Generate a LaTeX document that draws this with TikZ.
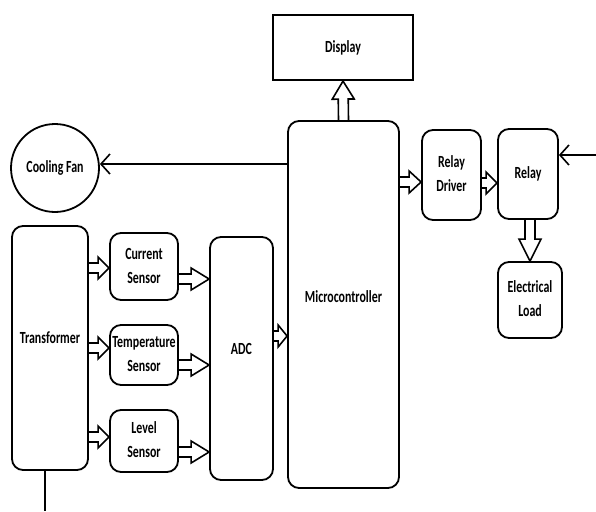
\documentclass[tikz,border=0pt]{standalone}
\usepackage{fontspec}
\setmainfont{Carlito}
\usetikzlibrary{calc,arrows.meta}
\newcommand\lbl[1]{\scalebox{0.7}[1]{\fontsize{17}{24}\selectfont\bfseries\begin{tabular}{@{}c@{}}#1\end{tabular}}}
\newcommand\hollowarrow[3][14pt]{%
  \path (#2) coordinate (ha-s) (#3) coordinate (ha-e);
  \path ($(ha-e)!#1!(ha-s)$) coordinate (ha-h);
  \draw[harrow] ($(ha-s)!5pt!90:(ha-e)$) -- ($(ha-h)!5pt!-90:(ha-s)$) -- ($(ha-h)!11pt!-90:(ha-s)$) -- (ha-e) -- ($(ha-h)!11pt!90:(ha-s)$) -- ($(ha-h)!5pt!90:(ha-s)$) -- ($(ha-s)!5pt!-90:(ha-e)$);
}
\begin{document}
\begin{tikzpicture}[x=1pt,y=-1pt,
  box/.style={draw, line width=1.8pt, rounded corners=11pt, align=center, inner sep=0pt},
  harrow/.style={line width=1.6pt, line join=miter},
  thinarrow/.style={line width=1.8pt, -{Straight Barb[length=9pt,width=20pt,line width=1.6pt]}}]
\useasboundingbox (0,0) rectangle (596,511);
% nodes
\node[box, rounded corners=0pt, line width=2.2pt, minimum width=140pt, minimum height=65pt] (disp) at (343,47.5) {\lbl{Display}};
\node[box, minimum width=111pt, minimum height=367pt, label={[yshift=7pt]center:\lbl{Microcontroller}}] (micro) at (343.5,304.5) {};
\node[box, minimum width=59pt, minimum height=90pt] (rdrv) at (451.5,175) {\lbl{Relay\\Driver}};
\node[box, minimum width=60pt, minimum height=90pt] (relay) at (528,174) {\lbl{Relay}};
\node[box, minimum width=64pt, minimum height=76pt] (load) at (530,300) {\lbl{Electrical\\Load}};
\node[box, circle, minimum size=88pt] (fan) at (55,168) {\lbl{Cooling Fan}};
\node[box, minimum width=76pt, minimum height=244pt, label={[yshift=9pt]center:\lbl{Transformer}}] (trans) at (50,348) {};
\node[box, minimum width=68pt, minimum height=67pt] (cur) at (144,266.5) {\lbl{Current\\Sensor}};
\node[box, minimum width=68pt, minimum height=60pt] (temp) at (144,355) {\lbl{Temperature\\Sensor}};
\node[box, minimum width=68pt, minimum height=62pt] (lvl) at (144,441) {\lbl{Level\\Sensor}};
\node[box, minimum width=63pt, minimum height=243pt, label={[yshift=9pt]center:\lbl{ADC}}] (adc) at (241.5,358.5) {};
\coordinate (tin) at (45,511);
\coordinate (rin) at (596,155);
% hollow arrows
\hollowarrow[11pt]{trans.east |- 0,268}{cur.west |- 0,268}
\hollowarrow[11pt]{trans.east |- 0,348}{temp.west |- 0,348}
\hollowarrow[11pt]{trans.east |- 0,437}{lvl.west |- 0,437}
\hollowarrow[18pt]{cur.east |- 0,279}{adc.west |- 0,279}
\hollowarrow[18pt]{temp.east |- 0,365}{adc.west |- 0,365}
\hollowarrow[18pt]{lvl.east |- 0,452}{adc.west |- 0,452}
\hollowarrow[9pt]{adc.east |- 0,336}{micro.west |- 0,336}
\hollowarrow[12pt]{micro.east |- 0,182}{rdrv.west |- 0,182}
\hollowarrow[11pt]{rdrv.east |- 0,183}{relay.west |- 0,183}
\hollowarrow[18pt]{micro.north}{disp.south}
\hollowarrow[22pt]{relay.south -| load.north}{load.north}
% thin connectors
\draw[thinarrow] (micro.west |- 0,164) -- (fan.east |- 0,164);
\draw[thinarrow] (rin) -- (relay.east |- rin);
\draw[line width=1.8pt] (trans.south -| tin) -- (tin);
\end{tikzpicture}
\end{document}
